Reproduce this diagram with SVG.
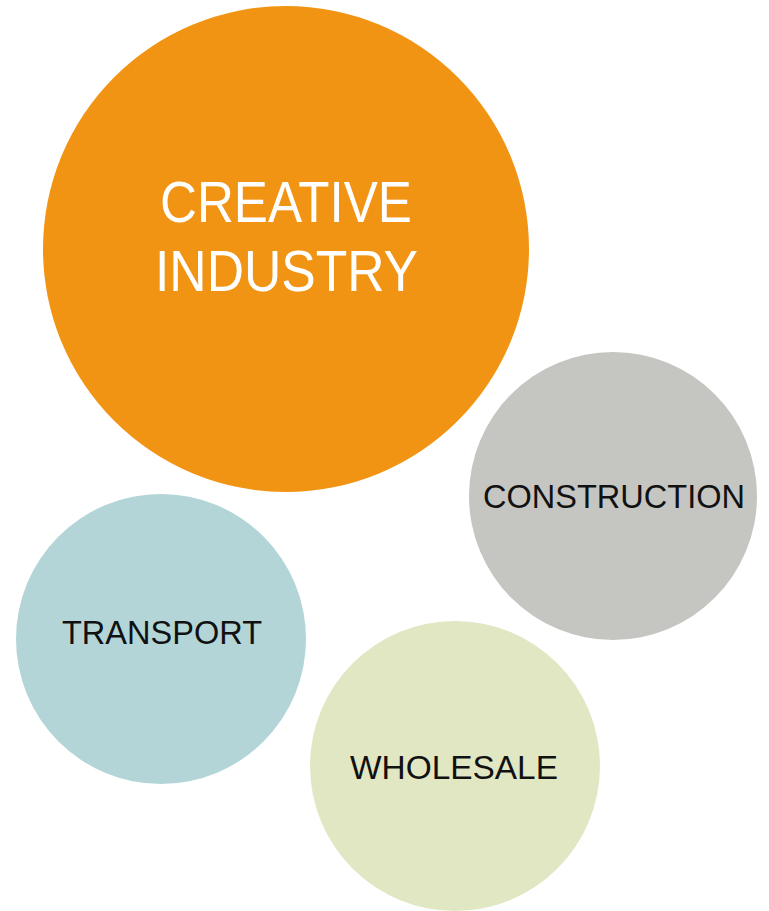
<svg xmlns="http://www.w3.org/2000/svg" width="769" height="911" viewBox="0 0 769 911">
<style>
text{font-family:"Liberation Sans","DejaVu Sans",Arial,sans-serif;}
.big{font-size:58px;fill:#ffffff;}
.small{font-size:33px;fill:#111111;}
</style>
<rect width="769" height="911" fill="#ffffff"/>
<g id="creative">
<circle cx="286" cy="249" r="243" fill="#F29413"/>
<text class="big" x="160" y="222" textLength="252" lengthAdjust="spacingAndGlyphs">CREATIVE</text>
<text class="big" x="155" y="291" textLength="263" lengthAdjust="spacingAndGlyphs">INDUSTRY</text>
</g>
<g id="construction">
<circle cx="613" cy="496" r="144" fill="#C5C6C1"/>
<text class="small" x="483" y="508" textLength="262" lengthAdjust="spacingAndGlyphs">CONSTRUCTION</text>
</g>
<g id="transport">
<circle cx="161" cy="639" r="145" fill="#B3D5D7"/>
<text class="small" x="62" y="644" textLength="200" lengthAdjust="spacingAndGlyphs">TRANSPORT</text>
</g>
<g id="wholesale">
<circle cx="455" cy="766" r="145" fill="#E2E7C3"/>
<text class="small" x="350" y="779" textLength="208" lengthAdjust="spacingAndGlyphs">WHOLESALE</text>
</g>
<g id="connectors"></g>
</svg>
